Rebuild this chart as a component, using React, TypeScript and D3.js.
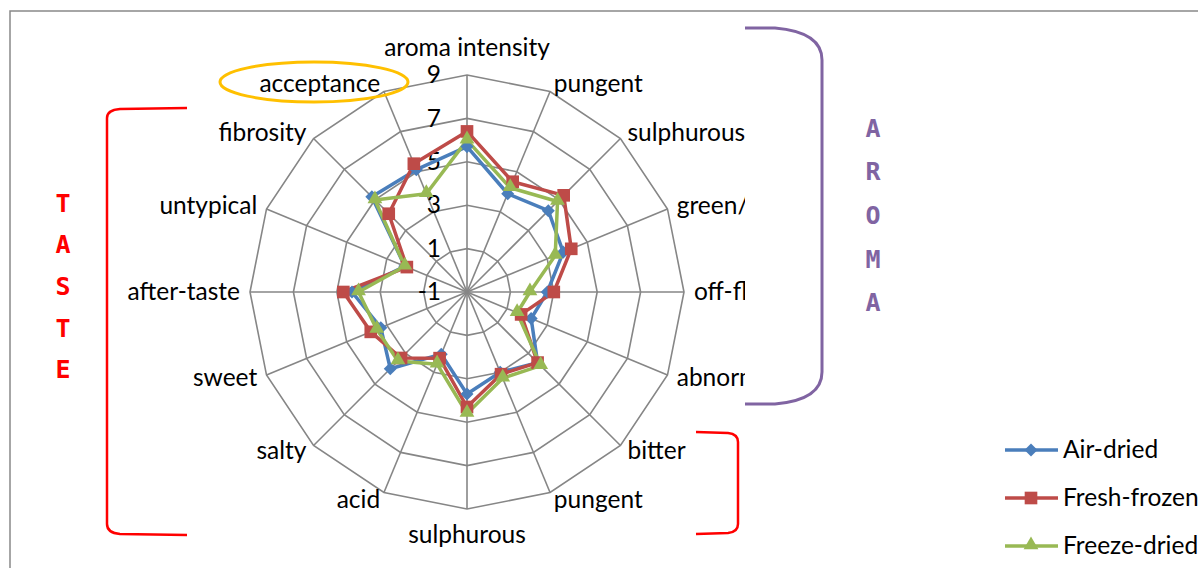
import React from "react";
import * as d3 from "d3";

const categories = [
  "aroma intensity", "pungent", "sulphurous", "green/grassy", "off-flavour", "abnormal",
  "bitter", "pungent", "sulphurous", "acid", "salty", "sweet",
  "after-taste", "untypical", "fibrosity", "acceptance",
];
const airDried = [5.7, 3.9, 4.3, 3.8, 2.7, 2.2, 3.6, 3.0, 3.7, 2.1, 4.0, 3.3, 4.3, 2.1, 5.2, 5.1];
const freshFrozen = [6.4, 4.5, 5.3, 4.2, 3.0, 1.7, 3.6, 3.1, 4.3, 2.3, 3.3, 3.8, 4.7, 2.0, 4.1, 5.4];
const freezeDried = [6.0, 4.2, 4.9, 3.4, 1.9, 1.5, 3.8, 3.3, 4.6, 2.6, 3.5, 3.5, 4.0, 2.1, 5.0, 3.9];
const tickValues = [-1, 1, 3, 5, 7, 9];
const seriesNames = ["Air-dried", "Fresh-frozen", "Freeze-dried"];
const tasteLetters = ["T", "A", "S", "T", "E"];
const aromaLetters = ["A", "R", "O", "M", "A"];

const FONT = "Lato, 'Open Sans', sans-serif";
const FS = 24.5;

export default function App() {
  const W = 1198, H = 568;
  const cx = 467, cy = 292, R = 217;
  const rScale = d3.scaleLinear().domain([-1, 9]).range([0, R]);
  const n = categories.length;
  const angle = d3.scaleLinear().domain([0, n]).range([0, 2 * Math.PI]);
  const pt = (i: number, r: number): [number, number] => [
    cx + r * Math.sin(angle(i)),
    cy - r * Math.cos(angle(i)),
  ];

  const colors = ["#4A7EBB", "#BE4B48", "#98B954"];
  const data = [airDried, freshFrozen, freezeDried];
  const line = d3
    .lineRadial<number>()
    .angle((_, i) => angle(i))
    .radius((d) => rScale(d))
    .curve(d3.curveLinearClosed);

  const diamond = d3.symbol().type(d3.symbolSquare).size(85)();
  const square = d3.symbol().type(d3.symbolSquare).size(160)();
  const triangle = d3.symbol().type(d3.symbolTriangle).size(95)();
  const marker = (s: number, x: number, y: number, key: string) => {
    if (s === 0)
      return <path key={key} d={diamond as string} transform={`translate(${x},${y}) rotate(45)`} fill={colors[0]} />;
    if (s === 1) return <path key={key} d={square as string} transform={`translate(${x},${y})`} fill={colors[1]} />;
    return <path key={key} d={triangle as string} transform={`translate(${x},${y - 1})`} fill={colors[2]} />;
  };

  const ringPath = (v: number) =>
    d3.range(n).map((i) => pt(i, rScale(v)).join(",")).join(" ");

  return (
    <svg width={W} height={H} style={{ position: "absolute", left: 0, top: 0, background: "#fff" }}>
      <rect x={0} y={0} width={W} height={H} fill="#fff" />
      {/* frame */}
      <path d={`M10,${H} L10,11 L${W},11`} fill="none" stroke="#898989" strokeWidth={1.5} />
      {/* grid */}
      {tickValues.slice(1).map((v) => (
        <polygon key={v} points={ringPath(v)} fill="none" stroke="#868686" strokeWidth={1.6} />
      ))}
      {d3.range(n).map((i) => {
        const [x, y] = pt(i, R);
        return <line key={i} x1={cx} y1={cy} x2={x} y2={y} stroke="#868686" strokeWidth={1.6} />;
      })}
      {/* tick labels */}
      {tickValues.map((v) => (
        <text key={v} x={441} y={cy - rScale(v) + 2} textAnchor="end" dominantBaseline="middle" fontFamily={FONT} fontSize={FS} fill="#000">
          {v}
        </text>
      ))}
      {/* series */}
      {data.map((s, k) => (
        <path key={k} d={line(s) as string} transform={`translate(${cx},${cy})`} fill="none" stroke={colors[k]} strokeWidth={3.5} strokeLinejoin="round" />
      ))}
      {data.map((s, k) =>
        s.map((v, i) => {
          const [x, y] = pt(i, rScale(v));
          return marker(k, x, y, `${k}-${i}`);
        })
      )}
      {/* category labels */}
      {categories.map((c, i) => {
        const a = angle(i);
        const sn = Math.sin(a), cs = Math.cos(a);
        let x = cx + (R + 10) * sn;
        let y = cy - (R + 8) * cs + 2;
        let anchor = "middle";
        if (sn > 0.1) anchor = "start";
        else if (sn < -0.1) anchor = "end";
        else y += cs > 0 ? -19 : 18;
        return (
          <text key={i} x={x} y={y} textAnchor={anchor} dominantBaseline="middle" fontFamily={FONT} fontSize={FS} fill="#000">
            {c}
          </text>
        );
      })}
      {/* white image area covering labels at right */}
      <rect x={745} y={24} width={90} height={386} fill="#fff" />
      {/* aroma bracket */}
      <path d="M745,28 L775,28 Q822,32 822,60 L822,372 Q822,400 775,404 L745,404" fill="none" stroke="#8064A2" strokeWidth={3} />
      {aromaLetters.map((l, i) => (
        <text key={i} x={873} y={128 + i * 43.7} textAnchor="middle" dominantBaseline="central" fontFamily="'DejaVu Sans Mono', monospace" fontWeight="bold" fontSize={25} fill="#8064A2">
          {l}
        </text>
      ))}
      {/* taste bracket */}
      <path d="M187,108 L120,109 Q107,110 107,118 L107,524 Q107,533 120,534 L187,535" fill="none" stroke="#FF0000" strokeWidth={2.5} />
      {tasteLetters.map((l, i) => (
        <text key={i} x={63} y={203 + i * 41.7} textAnchor="middle" dominantBaseline="central" fontFamily="'DejaVu Sans Mono', monospace" fontWeight="bold" fontSize={25} fill="#FF0000">
          {l}
        </text>
      ))}
      {/* right taste bracket */}
      <path d="M696,432 L728,433 Q738,434 738,442 L738,524 Q738,532 728,533 L696,534" fill="none" stroke="#FF0000" strokeWidth={2.5} />
      {/* acceptance ellipse */}
      <ellipse cx={314} cy={82} rx={94} ry={20} fill="none" stroke="#FFC000" strokeWidth={3} />
      {/* legend */}
      {seriesNames.map((s, k) => {
        const y = 450 + k * 48;
        return (
          <g key={s}>
            <line x1={1005} y1={y} x2={1058} y2={y} stroke={colors[k]} strokeWidth={3.5} />
            {marker(k, 1031, y, `lg${k}`)}
            <text x={1063} y={y + 2} dominantBaseline="middle" fontFamily={FONT} fontSize={FS} fill="#000">
              {s}
            </text>
          </g>
        );
      })}
    </svg>
  );
}
